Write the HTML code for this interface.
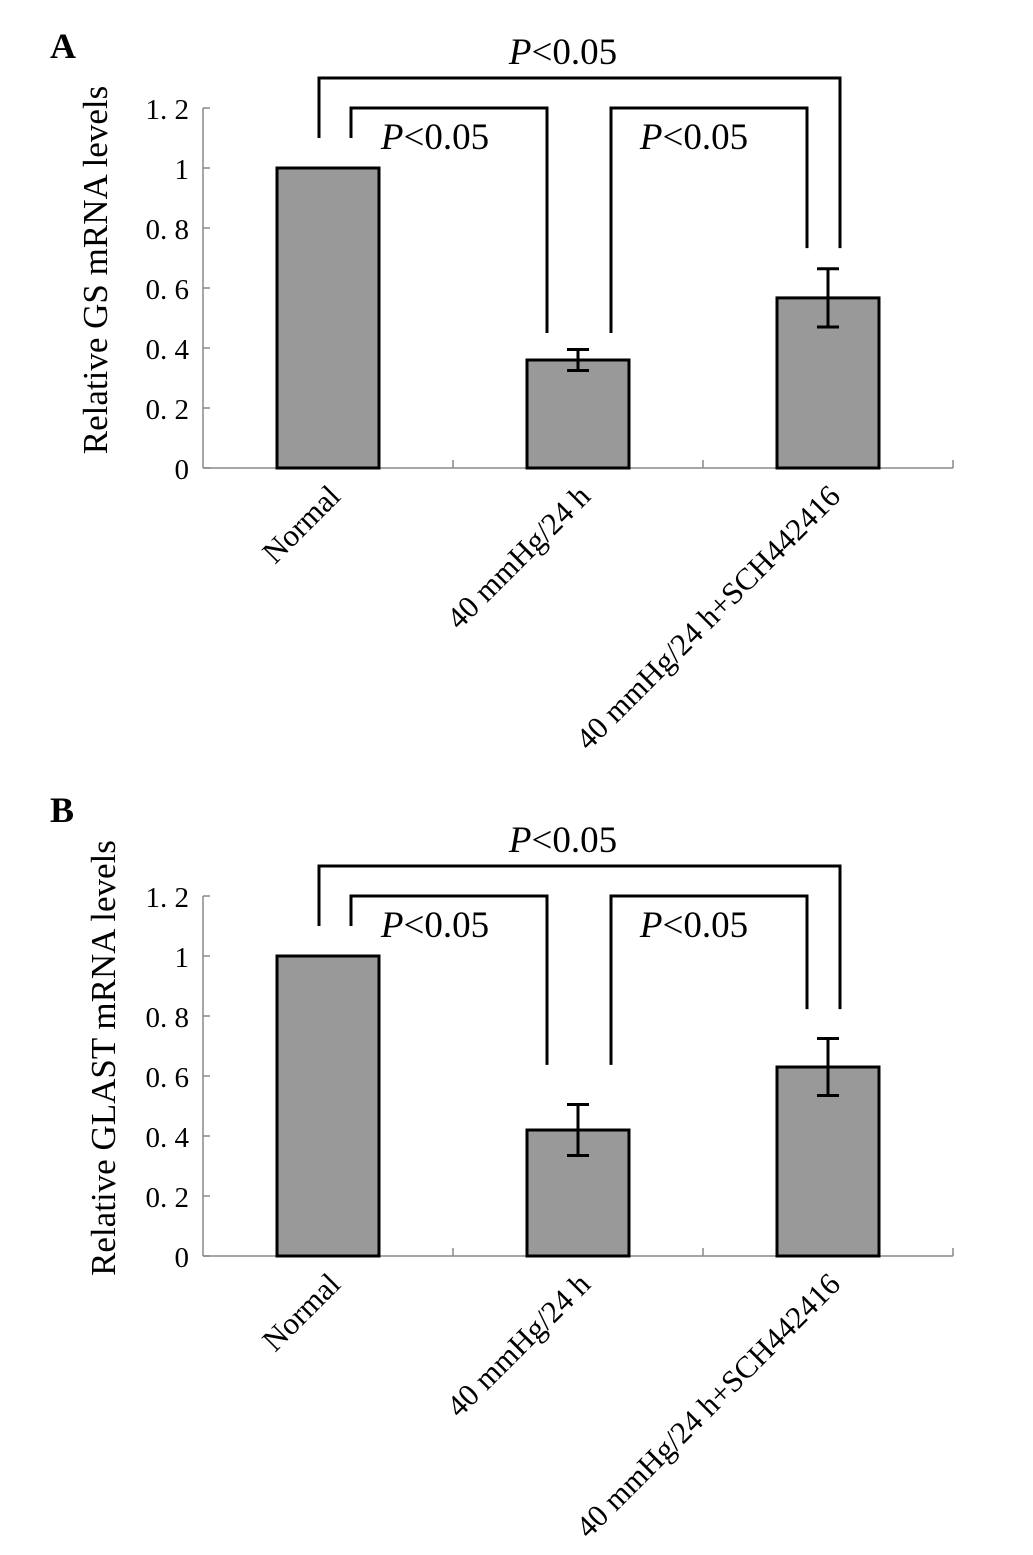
<!DOCTYPE html>
<html><head><meta charset="utf-8"><style>
html,body{margin:0;padding:0;background:#fff;width:1033px;height:1555px;overflow:hidden}
svg text{font-family:"Liberation Serif",serif;fill:#000}
</style></head><body>
<svg id="fig" width="1033" height="1555" viewBox="0 0 1033 1555" xmlns="http://www.w3.org/2000/svg"></svg>
<script>
const categories = ["Normal", "40 mmHg/24 h", "40 mmHg/24 h+SCH442416"];
const gsValues = [1.0, 0.36, 0.567];
const gsErrors = [0, 0.035, 0.097];
const glastValues = [1.0, 0.42, 0.63];
const glastErrors = [0, 0.085, 0.095];
const yTickValues = [0, 0.2, 0.4, 0.6, 0.8, 1, 1.2];
const yTickLabels = ["0", "0. 2", "0. 4", "0. 6", "0. 8", "1", "1. 2"];
const pLabel = "<0.05";

const svg = document.getElementById('fig');
const NS = 'http://www.w3.org/2000/svg';
function mk(tag, attrs, parent){
  const e = document.createElementNS(NS, tag);
  for (const k in attrs) e.setAttribute(k, attrs[k]);
  (parent||svg).appendChild(e);
  return e;
}

function panel(cfg){
  const g = mk('g', {});
  
  
  const x0 = 203, x1 = 953, y0 = cfg.y0, pxPerUnit = 300;
  const yS = v => y0 - v * pxPerUnit;
  const band = (x1 - x0) / categories.length;
  const xC = i => x0 + band * (i + 0.5);

  const lab = mk('text', {x: 50, y: cfg.labelY, 'font-size': 36, 'font-weight': 'bold'}, g);
  lab.textContent = cfg.letter;
  
  

  const ya = mk('line', {x1: x0, y1: yS(1.2), x2: x0, y2: y0, stroke: '#888', 'stroke-width': 1.5}, g);
  
  
  const xa = mk('line', {x1: x0, y1: y0, x2: x1, y2: y0, stroke: '#888', 'stroke-width': 1.5}, g);
  
  
  yTickValues.forEach((v, i) => {
    const t = mk('line', {x1: x0, y1: yS(v), x2: x0 + 7, y2: yS(v), stroke: '#888', 'stroke-width': 1.5}, g);
    
    
    const tl = mk('text', {x: 189, y: yS(v) + 11, 'font-size': 29, 'text-anchor': 'end'}, g);
    tl.textContent = yTickLabels[i];
    
    
  });
  for (let i = 1; i <= categories.length; i++) {
    const t = mk('line', {x1: x0 + band * i, y1: y0, x2: x0 + band * i, y2: y0 - 8, stroke: '#888', 'stroke-width': 1.5}, g);
    
    
  }
  const yt = mk('text', {x: 0, y: 0, 'font-size': 35, 'text-anchor': 'middle', transform: `translate(${cfg.titleX},${y0 - 198}) rotate(-90)`}, g);
  yt.textContent = cfg.title;
  
  

  cfg.values.forEach((v, i) => {
    const cx = xC(i);
    const r = mk('rect', {x: cx - 51, y: yS(v), width: 102, height: y0 - yS(v), fill: '#999', stroke: '#000', 'stroke-width': 3}, g);
    
    
    const e = cfg.errors[i];
    if (e > 0) {
      const eg = mk('g', {stroke: '#000', 'stroke-width': 3}, g);
      
      
      mk('line', {x1: cx, y1: yS(v + e), x2: cx, y2: yS(v - e)}, eg);
      mk('line', {x1: cx - 11, y1: yS(v + e), x2: cx + 11, y2: yS(v + e)}, eg);
      mk('line', {x1: cx - 11, y1: yS(v - e), x2: cx + 11, y2: yS(v - e)}, eg);
    }
    const xl = mk('text', {x: 0, y: 0, 'font-size': 31, 'text-anchor': 'end', transform: `translate(${cx + 14},${y0 + 30}) rotate(-45)`}, g);
    xl.textContent = categories[i];
    
    
  });

  const innerLow = cfg.innerLow, outerLow = cfg.outerLow, startLow = 1.1;
  const brackets = [
    {xa: xC(0) - 9, ya: yS(startLow), xb: xC(2) + 12, yb: yS(outerLow), top: yS(1.3), tx: 563, ty: yS(1.3) - 14},
    {xa: xC(0) + 23, ya: yS(startLow), xb: xC(1) - 31, yb: yS(innerLow), top: yS(1.2), tx: 435, ty: yS(1.2) + 41},
    {xa: xC(1) + 33, ya: yS(innerLow), xb: xC(2) - 21, yb: yS(outerLow), top: yS(1.2), tx: 694, ty: yS(1.2) + 41}
  ];
  brackets.forEach((b) => {
    const p = mk('polyline', {points: `${b.xa},${b.ya} ${b.xa},${b.top} ${b.xb},${b.top} ${b.xb},${b.yb}`, fill: 'none', stroke: '#000', 'stroke-width': 3}, g);
    
    
    const t = mk('text', {x: b.tx, y: b.ty, 'font-size': 37, 'text-anchor': 'middle'}, g);
    
    
    const it = mk('tspan', {'font-style': 'italic'}, t);
    it.textContent = 'P';
    const rest = mk('tspan', {}, t);
    rest.textContent = pLabel;
  });
}

panel({name: 'panel-a', letter: 'A', labelY: 58, y0: 468, title: 'Relative GS mRNA levels', titleX: 107, values: gsValues, errors: gsErrors, innerLow: 0.45, outerLow: 0.733});
panel({name: 'panel-b', letter: 'B', labelY: 822, y0: 1256, title: 'Relative GLAST mRNA levels', titleX: 115, values: glastValues, errors: glastErrors, innerLow: 0.637, outerLow: 0.823});
</script>
</body></html>
